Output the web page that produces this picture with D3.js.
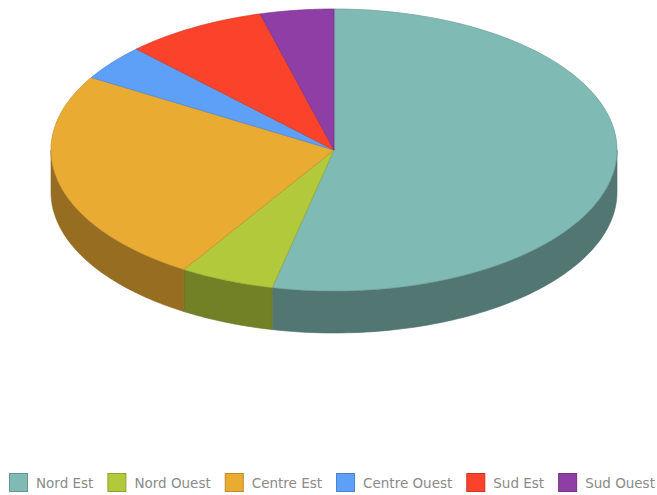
<!DOCTYPE html>
<html><head><meta charset="utf-8">
<script src="https://cdn.jsdelivr.net/npm/d3@7"></script>
<style>body{margin:0;background:#fff}svg{display:block}</style>
</head><body>
<svg id="c" width="657" height="495"></svg>
<script>
const categories = ["Nord Est", "Nord Ouest", "Centre Est", "Centre Ouest", "Sud Est", "Sud Ouest"];
const values = [53.5, 5.4, 24.7, 4.1, 8.1, 4.2];
const colors = ["#80bab4", "#b2c93b", "#eaab33", "#5ea0f7", "#fb432b", "#8e3ea5"];

const W = 657, H = 495;
const cx = 334, cy = 150, rx = 283, ry = 141, depth = 42;
const svg = d3.select("#c");

const pie = d3.pie().sort(null).value(d => d.v).startAngle(0).endAngle(2 * Math.PI);
const arcs = pie(categories.map((c, i) => ({ c, v: values[i], col: colors[i] })));

const px = t => cx + rx * Math.sin(t);
const py = t => cy - ry * Math.cos(t);
const N = 80;

function rimPts(a, b, dy) {
  const pts = [];
  for (let k = 0; k <= N; k++) {
    const t = a + (b - a) * k / N;
    pts.push([px(t), py(t) + dy]);
  }
  return pts;
}
const line = d3.line();

// outer walls (front half only)
const gWall = svg.append("g");
arcs.forEach(d => {
  const a = Math.max(d.startAngle, Math.PI / 2), b = Math.min(d.endAngle, 3 * Math.PI / 2);
  if (b <= a) return;
  const top = rimPts(a, b, 0), bot = rimPts(a, b, depth).reverse();
  const c = d3.color(d.data.col);
  gWall.append("path")
    .attr("d", line(top.concat(bot)) + "Z")
    .attr("fill", c.darker(1.25))
    .attr("stroke", c.darker(1.5))
    .attr("stroke-width", 0.6);
});

// top faces
const gTop = svg.append("g");
arcs.forEach(d => {
  const pts = [[cx, cy]].concat(rimPts(d.startAngle, d.endAngle, 0));
  const c = d3.color(d.data.col);
  gTop.append("path")
    .attr("d", line(pts) + "Z")
    .attr("fill", d.data.col)
    .attr("stroke", c.darker(0.5))
    .attr("stroke-width", 0.7)
    .attr("stroke-linejoin", "round");
});

// legend
const leg = svg.append("g").attr("font-family", "Verdana, 'DejaVu Sans', sans-serif").attr("font-size", 13.5);
let x = 9;
const ly = 473;
categories.forEach((c, i) => {
  const col = d3.color(colors[i]);
  leg.append("rect").attr("x", x + 0.5).attr("y", ly + 0.5).attr("width", 18).attr("height", 18)
    .attr("fill", colors[i]).attr("stroke", col.darker(0.6)).attr("stroke-width", 1);
  const t = leg.append("text").attr("x", x + 27).attr("y", ly + 15).attr("fill", "#8a8a8a").text(c);
  x += 27 + t.node().getComputedTextLength() + 14;
});
</script>
</body></html>
